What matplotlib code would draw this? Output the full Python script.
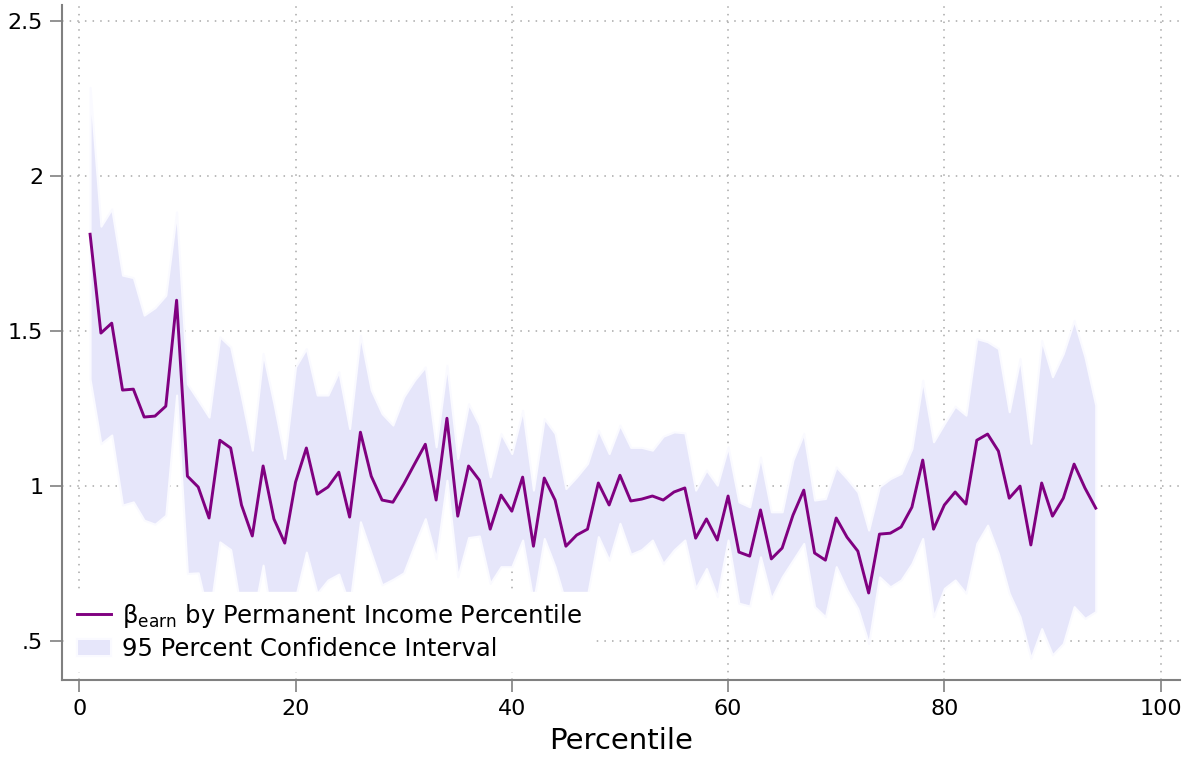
import matplotlib
matplotlib.use("Agg")
import matplotlib.pyplot as plt
import numpy as np

# permanent income percentile, 1..94
pctile = np.arange(1, 95)

beta = [1.813, 1.494, 1.526, 1.310, 1.313, 1.223, 1.226, 1.258, 1.600, 1.032,
        0.997, 0.897, 1.148, 1.123, 0.939, 0.839, 1.065, 0.894, 0.816, 1.013,
        1.123, 0.974, 0.997, 1.045, 0.900, 1.174, 1.032, 0.955, 0.948, 1.006,
        1.071, 1.135, 0.955, 1.219, 0.903, 1.065, 1.019, 0.861, 0.971, 0.919,
        1.029, 0.806, 1.026, 0.955, 0.806, 0.842, 0.861, 1.010, 0.939, 1.035,
        0.952, 0.958, 0.968, 0.955, 0.981, 0.994, 0.832, 0.894, 0.826, 0.968,
        0.787, 0.774, 0.923, 0.765, 0.800, 0.906, 0.987, 0.784, 0.761, 0.897,
        0.835, 0.790, 0.655, 0.845, 0.848, 0.868, 0.932, 1.084, 0.861, 0.939,
        0.981, 0.942, 1.148, 1.168, 1.113, 0.961, 1.000, 0.810, 1.010, 0.903,
        0.961, 1.071, 0.994, 0.929]

ci_hi = [2.287, 1.839, 1.895, 1.681, 1.673, 1.552, 1.576, 1.616, 1.885, 1.330,
         1.277, 1.223, 1.482, 1.449, 1.288, 1.116, 1.428, 1.266, 1.089, 1.385,
         1.444, 1.294, 1.294, 1.369, 1.186, 1.487, 1.310, 1.234, 1.197, 1.288,
         1.342, 1.385, 1.127, 1.390, 1.089, 1.266, 1.197, 1.030, 1.170, 1.105,
         1.245, 0.987, 1.218, 1.170, 0.992, 1.030, 1.073, 1.181, 1.105, 1.197,
         1.125, 1.125, 1.116, 1.161, 1.175, 1.172, 0.987, 1.052, 1.003, 1.127,
         0.949, 0.933, 1.094, 0.917, 0.917, 1.084, 1.170, 0.955, 0.960, 1.062,
         1.024, 0.981, 0.858, 0.998, 1.024, 1.041, 1.121, 1.342, 1.143, 1.202,
         1.258, 1.229, 1.476, 1.466, 1.444, 1.240, 1.412, 1.138, 1.471, 1.353,
         1.428, 1.535, 1.417, 1.261]

ci_lo = [1.345, 1.137, 1.165, 0.939, 0.949, 0.890, 0.877, 0.906, 1.294, 0.718,
         0.720, 0.571, 0.820, 0.795, 0.590, 0.562, 0.745, 0.522, 0.543, 0.641,
         0.787, 0.654, 0.697, 0.716, 0.614, 0.885, 0.783, 0.681, 0.699, 0.720,
         0.810, 0.895, 0.766, 1.019, 0.707, 0.834, 0.839, 0.686, 0.740, 0.740,
         0.826, 0.625, 0.831, 0.740, 0.620, 0.654, 0.649, 0.837, 0.761, 0.880,
         0.780, 0.795, 0.826, 0.750, 0.794, 0.826, 0.670, 0.734, 0.643, 0.826,
         0.622, 0.613, 0.772, 0.637, 0.707, 0.761, 0.815, 0.611, 0.578, 0.740,
         0.665, 0.605, 0.492, 0.707, 0.675, 0.697, 0.750, 0.831, 0.578, 0.670,
         0.697, 0.654, 0.815, 0.874, 0.782, 0.654, 0.578, 0.444, 0.540, 0.455,
         0.492, 0.611, 0.573, 0.595]

yticks = [0.5, 1, 1.5, 2, 2.5]
ytick_labels = [".5", "1", "1.5", "2", "2.5"]
xticks = [0, 20, 40, 60, 80, 100]

fig = plt.figure(figsize=(11.92, 7.61), dpi=100)
ax = fig.add_axes([0.052, 0.1064, 0.938, 0.8866])

gray = "#808080"

ax.fill_between(pctile, ci_lo, ci_hi, facecolor="#e6e6fa", edgecolor="#fafaff",
                linewidth=1.5, zorder=2, label="95 Percent Confidence Interval")
ax.plot(pctile, beta, color="#800080", linewidth=2.1, zorder=3,
        label=r"$\mathrm{\beta}_{\mathrm{earn}}$ by Permanent Income Percentile")

ax.set_xlim(-1.6, 101.8)
ax.set_ylim(0.374, 2.552)
ax.set_xticks(xticks)
ax.set_yticks(yticks)
ax.set_yticklabels(ytick_labels)

ax.set_axisbelow(True)
ax.grid(True, linestyle=(0, (1, 4)), color="#a8a8a8", linewidth=1.1)

for side in ["top", "right"]:
    ax.spines[side].set_visible(False)
for side in ["left", "bottom"]:
    ax.spines[side].set_color(gray)
    ax.spines[side].set_linewidth(1.5)

ax.tick_params(axis="both", colors=gray, length=8.5, width=1.2, labelsize=16,
               labelcolor="black", pad=5)

ax.set_xlabel("Percentile", fontsize=21, labelpad=6)

# line first, then the band, in the legend
handles, labels = ax.get_legend_handles_labels()
leg = ax.legend(handles[::-1], labels[::-1], loc="lower left",
                bbox_to_anchor=(0.004, 0.013), borderaxespad=0, fontsize=17.5,
                frameon=True, fancybox=False, framealpha=1, facecolor="white",
                edgecolor="white", handlelength=1.4, handletextpad=0.45,
                borderpad=0.42, labelspacing=0.3)
leg.set_zorder(5)

fig.savefig("out.png", dpi=100)
